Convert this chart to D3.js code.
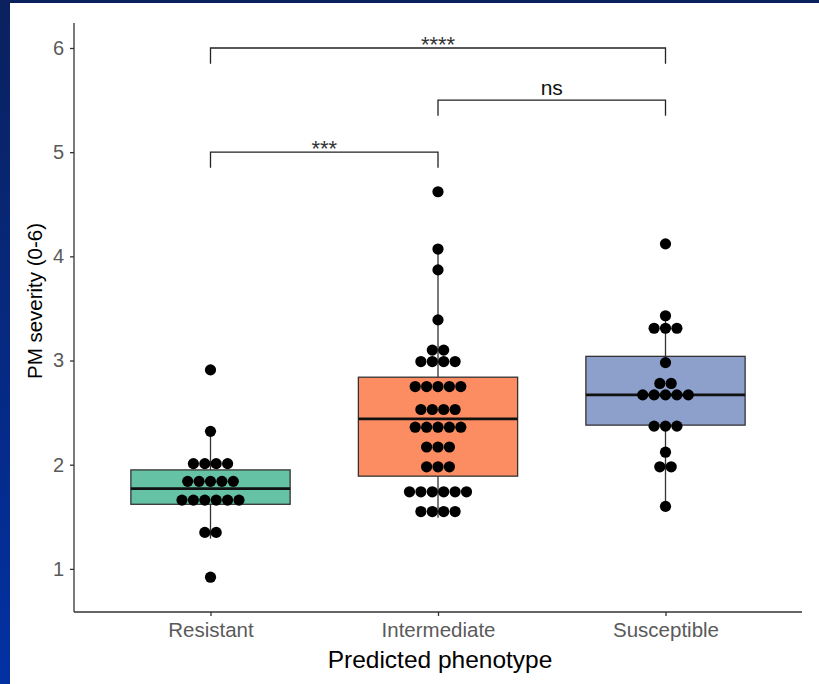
<!DOCTYPE html>
<html>
<head>
<meta charset="utf-8">
<script src="https://cdn.jsdelivr.net/npm/d3@7"></script>
<style>
  body { margin: 0; background: #fff; }
  svg { display: block; font-family: "Liberation Sans", Arial, sans-serif; }
</style>
</head>
<body>
<div id="chart"></div>
<script>
const categories = ['Resistant', 'Intermediate', 'Susceptible'];
const colors = ['#66C2A5', '#FC8D62', '#8DA0CB'];

// individual observations, as stacked by the dotplot bins
const resistant = [0.92, 1.35, 1.35, 1.66, 1.66, 1.66, 1.66, 1.66, 1.66,
  1.84, 1.84, 1.84, 1.84, 1.84, 2.01, 2.01, 2.01, 2.01, 2.32, 2.91];
const intermediate = [1.55, 1.55, 1.55, 1.55, 1.74, 1.74, 1.74, 1.74, 1.74, 1.74,
  1.98, 1.98, 1.98, 2.17, 2.17, 2.17, 2.36, 2.36, 2.36, 2.36, 2.36,
  2.53, 2.53, 2.53, 2.53, 2.75, 2.75, 2.75, 2.75, 2.75, 2.99, 2.99, 2.99, 2.99,
  3.10, 3.10, 3.39, 3.87, 4.07, 4.62];
const susceptible = [1.60, 1.98, 1.98, 2.12, 2.37, 2.37, 2.37, 2.67, 2.67, 2.67, 2.67, 2.67,
  2.78, 2.78, 2.98, 3.31, 3.31, 3.31, 3.43, 4.12];

// box statistics
const whiskerLow = [1.29, 1.49, 1.59];
const q1 = [1.62, 1.89, 2.38];
const median = [1.77, 2.44, 2.67];
const q3 = [1.95, 2.84, 3.04];
const whiskerHigh = [2.32, 4.07, 3.43];

// significance brackets
const bracketFrom = ['Resistant', 'Intermediate', 'Resistant'];
const bracketTo = ['Intermediate', 'Susceptible', 'Susceptible'];
const bracketY = [5.0, 5.5, 6.0];
const bracketLabel = ['***', 'ns', '****'];

const yTicks = [1, 2, 3, 4, 5, 6];

const W = 819, H = 684;
const margin = { top: 23, right: 17, bottom: 72, left: 74 };

const svg = d3.select('#chart').append('svg')
  .attr('width', W).attr('height', H);

// slide background
const grad = svg.append('defs').append('linearGradient')
  .attr('id', 'bg').attr('x1', 0).attr('y1', 0).attr('x2', 0).attr('y2', 1);
grad.append('stop').attr('offset', '0%').attr('stop-color', '#0a215e');
grad.append('stop').attr('offset', '100%').attr('stop-color', '#0231a3');
svg.append('rect').attr('width', W).attr('height', H).attr('fill', 'url(#bg)');
svg.append('rect').attr('x', 10).attr('y', 3).attr('width', W - 10).attr('height', H - 3).attr('fill', '#fff');

const x = d3.scalePoint()
  .domain(categories)
  .range([margin.left, W - margin.right])
  .padding(0.6);

const y = d3.scaleLinear()
  .domain([0.586, 6.24])
  .range([H - margin.bottom, margin.top]);

const boxW = x.step() * 0.7;
const dotR = 5.6, dotStep = 11.4;

const g = svg.append('g');

// y axis
g.append('g')
  .attr('transform', `translate(${margin.left},0)`)
  .call(d3.axisLeft(y).tickValues(yTicks).tickFormat(d3.format('d')).tickSize(4).tickPadding(6))
  .call(a => a.select('.domain').attr('stroke', '#333').attr('stroke-width', 1.3).attr('d', `M0,${y.range()[0]}V${y.range()[1]}`))
  .call(a => a.selectAll('.tick line').attr('stroke', '#333').attr('stroke-width', 1.3))
  .call(a => a.selectAll('.tick text').attr('fill', '#5a5a5a').attr('font-size', 20).attr('font-family', 'Liberation Sans, Arial, sans-serif'));

// x axis
g.append('g')
  .attr('transform', `translate(0,${H - margin.bottom})`)
  .call(d3.axisBottom(x).tickSize(4).tickPadding(6))
  .call(a => a.select('.domain').attr('stroke', '#333').attr('stroke-width', 1.3).attr('d', `M${margin.left},0H${W - margin.right}`))
  .call(a => a.selectAll('.tick line').attr('stroke', '#333').attr('stroke-width', 1.3))
  .call(a => a.selectAll('.tick text').attr('fill', '#5a5a5a').attr('font-size', 20.5).attr('font-family', 'Liberation Sans, Arial, sans-serif'));

// axis titles
svg.append('text')
  .attr('x', 440).attr('y', 668)
  .attr('text-anchor', 'middle').attr('font-size', 24.5).attr('fill', '#000')
  .text('Predicted phenotype');
svg.append('text')
  .attr('transform', 'translate(42,301) rotate(-90)')
  .attr('text-anchor', 'middle').attr('font-size', 20.5).attr('fill', '#000')
  .text('PM severity (0-6)');

// boxes
const boxes = g.selectAll('.box').data(categories).join('g').attr('class', 'box');
boxes.append('line')
  .attr('x1', d => x(d)).attr('x2', d => x(d))
  .attr('y1', (d, i) => y(whiskerLow[i])).attr('y2', (d, i) => y(whiskerHigh[i]))
  .attr('stroke', '#333').attr('stroke-width', 1.3);
boxes.append('rect')
  .attr('x', d => x(d) - boxW / 2).attr('width', boxW)
  .attr('y', (d, i) => y(q3[i])).attr('height', (d, i) => y(q1[i]) - y(q3[i]))
  .attr('fill', (d, i) => colors[i]).attr('stroke', '#333').attr('stroke-width', 1.3);
boxes.append('line')
  .attr('x1', d => x(d) - boxW / 2).attr('x2', d => x(d) + boxW / 2)
  .attr('y1', (d, i) => y(median[i])).attr('y2', (d, i) => y(median[i]))
  .attr('stroke', '#111').attr('stroke-width', 2.6);

// dotplot, stacked centered on the category
[resistant, intermediate, susceptible].forEach((vals, i) => {
  const cx = x(categories[i]);
  const pts = [];
  d3.group(vals, v => v).forEach((arr, v) => {
    arr.forEach((_, k) => pts.push({ x: cx + (k - (arr.length - 1) / 2) * dotStep, v }));
  });
  g.append('g').selectAll('circle').data(pts).join('circle')
    .attr('cx', d => d.x).attr('cy', d => y(d.v)).attr('r', dotR)
    .attr('fill', '#000');
});

// significance brackets
const tick = 0.15;
bracketLabel.forEach((lab, i) => {
  const x1 = x(bracketFrom[i]), x2 = x(bracketTo[i]), yy = y(bracketY[i]);
  g.append('path')
    .attr('d', `M${x1},${y(bracketY[i] - tick)}V${yy}H${x2}V${y(bracketY[i] - tick)}`)
    .attr('fill', 'none').attr('stroke', '#222').attr('stroke-width', 1.3);
  const isNs = lab === 'ns';
  g.append('text')
    .attr('x', (x1 + x2) / 2)
    .attr('y', isNs ? yy - 5 : yy + 3.5)
    .attr('text-anchor', 'middle')
    .attr('font-size', isNs ? 21 : 22)
    .attr('fill', isNs ? '#111' : '#333')
    .text(lab);
});
</script>
</body>
</html>
